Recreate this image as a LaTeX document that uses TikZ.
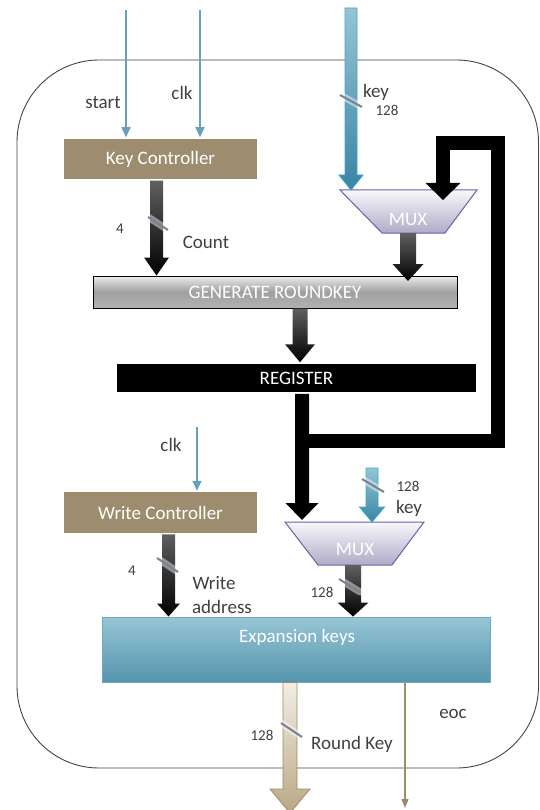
\documentclass[tikz,border=0pt]{standalone}
\usepackage{fontspec}
\setmainfont{Carlito}
\usetikzlibrary{calc,arrows.meta}
\definecolor{ctrl}{RGB}{157,141,110}
\definecolor{sig}{RGB}{105,160,185}
\definecolor{lbl}{RGB}{64,64,64}
\definecolor{tanc}{RGB}{160,140,100}
\definecolor{muxb}{RGB}{112,92,170}
\definecolor{muxT}{RGB}{248,248,252}
\definecolor{muxB}{RGB}{176,170,198}
\definecolor{expT}{RGB}{152,198,214}
\definecolor{expB}{RGB}{84,148,172}
\definecolor{expD}{RGB}{110,170,195}
\definecolor{cyanA}{RGB}{60,170,205}
\definecolor{keyT}{RGB}{150,196,212}
\definecolor{keyB}{RGB}{58,132,164}
\definecolor{slashc}{RGB}{120,130,145}
\definecolor{rkT}{RGB}{242,238,230}
\definecolor{rkB}{RGB}{184,168,132}
\newcommand\blk[6]{%
  \path[#1] let \p1=#2, \p2=#3 in
  (\x1-#4,\y1) -- (\x1+#4,\y1) -- (\x1+#4,\y2+#6) -- (\x1+#5,\y2+#6) --
  (\x1,\y2) -- (\x1-#5,\y2+#6) -- (\x1-#4,\y2+#6) -- cycle;}
\tikzset{
  lab/.style={text=lbl, font=\fontsize{19}{22}\selectfont, inner sep=0pt},
  num/.style={text=lbl, font=\fontsize{15}{18}\selectfont, inner sep=0pt},
  boxtxt/.style={text=white, font=\fontsize{19}{22}\selectfont, inner sep=0pt},
  ctrlbox/.style={boxtxt, fill=ctrl, draw=white, line width=1.5pt, minimum width=195pt, minimum height=42pt},
  sigarrow/.style={draw=sig, line width=1.6pt, -{Triangle[width=9pt,length=10pt]}},
  slashln/.style={draw=slashc, line width=2pt},
  slashglow/.style={draw=white, line width=7pt, opacity=0.45, line cap=round},
  darkarrow/.style={top color=gray!75!black, bottom color=black},
  keyarrow/.style={top color=keyT, bottom color=keyB, draw=cyanA, line width=0.9pt},
  muxshape/.style={top color=muxT, bottom color=muxB, draw=muxb, line width=1pt},
}
\begin{document}
\begin{tikzpicture}[x=1pt,y=-1pt]
\useasboundingbox (0,0) rectangle (539,810);
\fill[white] (0,0) rectangle (539,810);
% outer frame
\draw[draw=gray!55!black, line width=0.9pt, rounded corners=82pt] (17,60) rectangle (538.5,768);

% boxes
\node[ctrlbox] (kc) at (160.5,159) {Key Controller};
\node[boxtxt, draw=black, line width=1pt, top color=gray!15, bottom color=gray!60, middle color=gray!75,
      minimum width=364pt, minimum height=32pt] (gen) at (275,292) {GENERATE ROUNDKEY};
\node[boxtxt, fill=black, draw=white, line width=1.5pt, minimum width=361pt, minimum height=30pt] (reg) at (296.5,378) {REGISTER};
\node[ctrlbox] (wc) at (160.5,512.5) {Write Controller};
\node[draw=expD, line width=1pt, top color=expT, bottom color=expB, minimum width=388pt, minimum height=65pt, inner sep=0pt] (exp) at (296,649.5) {};
\node[boxtxt] (expt) at (297,637) {Expansion keys};

% MUX shapes
\path[muxshape] (340,190) -- (477,190) -- (445,233) -- (382,233) -- cycle;
\node[boxtxt] (mux1) at (408,219) {MUX};
\path[muxshape] (285,522) -- (424,522) -- (392,565) -- (318,565) -- cycle;
\node[boxtxt] (mux2) at (355,549) {MUX};

% coordinates
\coordinate (startin) at (126,10);
\coordinate (clkin) at (200,10);
\coordinate (keyin) at (351,8);
\coordinate (m1in) at (351,190);
\coordinate (m1out) at (408,233);
\coordinate (m1top) at (408,281);
\coordinate (m1fb) at (443,200);
\coordinate (cA) at (156.5,0);
\coordinate (gx) at (300,0);
\coordinate (rx) at (302,0);
\coordinate (m2in) at (302,520);
\coordinate (split) at (302,441);
\coordinate (clk2in) at (197,427);
\coordinate (key2in) at (372,468);
\coordinate (key2end) at (372,522);
\coordinate (m2out) at (353,565);
\coordinate (wx) at (168.5,0);
\coordinate (rkx) at (290,0);
\coordinate (rkend) at (290,813);
\coordinate (eocx) at (405,0);
\coordinate (eocend) at (405,808);

% thin signal arrows
\draw[sigarrow] (startin) -- (kc.north -| startin);
\draw[sigarrow] (clkin) -- (kc.north -| clkin);
\draw[sigarrow] (clk2in) -- (wc.north -| clk2in);

% key input arrows
\blk{keyarrow}{(keyin)}{(m1in)}{6pt}{12pt}{15pt}
\blk{keyarrow}{(key2in)}{(key2end)}{6pt}{12.5pt}{15pt}

% dark block arrows
\blk{darkarrow}{(kc.south -| cA)}{(gen.north -| cA)}{6.5pt}{12.5pt}{18pt}
\blk{darkarrow}{(m1out)}{(m1top)}{8pt}{15.5pt}{17pt}
\blk{darkarrow}{(gen.south -| gx)}{(reg.north -| gx)}{7.5pt}{15pt}{18pt}
\blk{darkarrow}{(wc.south -| wx)}{(exp.north -| wx)}{6.5pt}{11.5pt}{13pt}
\blk{darkarrow}{(m2out)}{(exp.north -| m2out)}{8pt}{15.5pt}{14pt}

% register output and feedback loop
\blk{fill=black}{(reg.south -| rx)}{(m2in)}{7pt}{16.5pt}{17pt}
\draw[black, line width=14pt, line join=miter] (split) -- (498,441) -- (498,143) -- (443,143) -- (443,184);
\fill[black] (425.5,183) -- (460.5,183) -- (m1fb) -- cycle;

% outputs
\blk{top color=rkT, bottom color=rkB, draw=tanc, line width=0.8pt}{(exp.south -| rkx)}{(rkend)}{7pt}{20pt}{24pt}
\draw[draw=tanc, line width=1.3pt, -{Triangle[width=7pt,length=9pt]}] (exp.south -| eocx) -- (eocend);

% bus slashes
\foreach \a/\b in {{(148,217)}/{(168,230)}, {(340,95)}/{(362,107)}, {(362,479)}/{(384,492)},
                   {(157,558)}/{(178,572)}, {(339,579)}/{(360,592)}, {(281,723)}/{(302,737)}}{
  \draw[slashglow] \a -- \b;
  \draw[slashln] \a -- \b;
}

% labels
\node[lab] (lstart) at (103,103) {start};
\node[lab] (lclk) at (182,93) {clk};
\node[lab] (lkey) at (376,92) {key};
\node[num] (l128a) at (387,110) {128};
\node[num] (l4a) at (120,229) {4};
\node[lab] (lcount) at (206,242) {Count};
\node[lab] (lclk2) at (171,445) {clk};
\node[num] (l128b) at (408,486) {128};
\node[lab] (lkey2) at (409,508) {key};
\node[num] (l4b) at (132,571) {4};
\node[lab] (lwrite) at (214,583) {Write};
\node[lab] (laddr) at (222,607) {address};
\node[num] (l128c) at (322,592) {128};
\node[num] (l128d) at (262,735) {128};
\node[lab] (lrk) at (352,744) {Round Key};
\node[lab] (leoc) at (453,714) {eoc};
\end{tikzpicture}
\end{document}
